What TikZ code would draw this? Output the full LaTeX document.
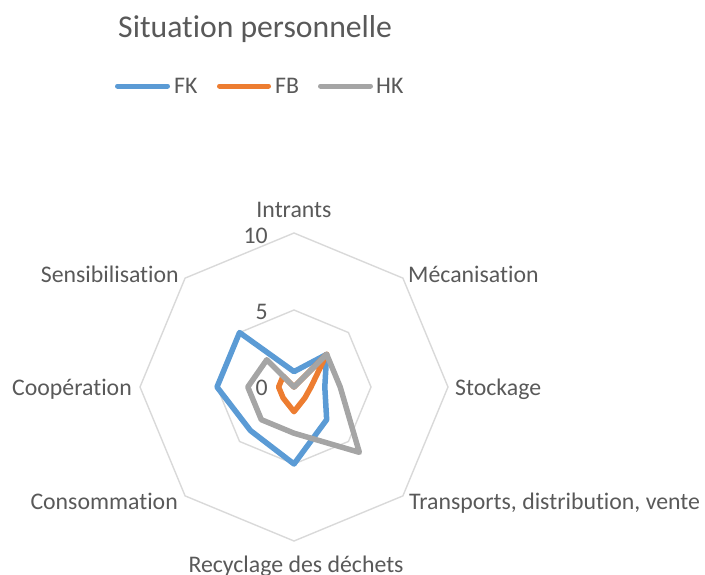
\documentclass[tikz,border=0pt]{standalone}
\usepackage{fontspec}
\setmainfont[Ligatures=NoCommon]{Carlito}
\definecolor{fkblue}{HTML}{5B9BD5}
\definecolor{fborange}{HTML}{ED7D31}
\definecolor{hkgray}{HTML}{A5A5A5}
\definecolor{gridgray}{HTML}{D9D9D9}
\definecolor{txtgray}{HTML}{595959}
\begin{document}
\begin{tikzpicture}[x=1pt,y=1pt,
  gridline/.style={draw=gridgray,line width=1.4pt,line join=miter},
  series/.style={line width=5.5pt,line join=round,line cap=round},
  keyline/.style={line width=5pt,line cap=round},
  lbl/.style={inner sep=0pt,text=txtgray,font=\fontsize{23.8}{28}\selectfont},
  ttl/.style={inner sep=0pt,text=txtgray,font=\fontsize{31.7}{36}\selectfont}]
\useasboundingbox (0,0) rectangle (705,-574);
\coordinate (c) at (294,-387);
\def\unit{15.4}

% grid rings at 5 and 10
\foreach \k in {0,...,7} {
  \coordinate (ga\k) at ([shift={(c)}] {90-45*\k}:{5*\unit});
  \coordinate (gb\k) at ([shift={(c)}] {90-45*\k}:{10*\unit});
}
\draw[gridline] (ga0)--(ga1)--(ga2)--(ga3)--(ga4)--(ga5)--(ga6)--(ga7)--cycle;
\draw[gridline] (gb0)--(gb1)--(gb2)--(gb3)--(gb4)--(gb5)--(gb6)--(gb7)--cycle;

% data points
\foreach \v [count=\k from 0] in {1,3,2,3,5,4,5,5}
  \coordinate (fk\k) at ([shift={(c)}] {90-45*\k}:{\v*\unit});
\foreach \v [count=\k from 0] in {0,3,1.1,1,1.6,1,1,1}
  \coordinate (fb\k) at ([shift={(c)}] {90-45*\k}:{\v*\unit});
\foreach \v [count=\k from 0] in {0,3,3,6,3,3,3,2.5}
  \coordinate (hk\k) at ([shift={(c)}] {90-45*\k}:{\v*\unit});

\draw[series,fkblue] (fk0)--(fk1)--(fk2)--(fk3)--(fk4)--(fk5)--(fk6)--(fk7)--cycle;
\draw[series,fborange] (fb0)--(fb1)--(fb2)--(fb3)--(fb4)--(fb5)--(fb6)--(fb7)--cycle;
\draw[series,hkgray] (hk0)--(hk1)--(hk2)--(hk3)--(hk4)--(hk5)--(hk6)--(hk7)--cycle;

% scale labels
\node[lbl,anchor=base east] (t10) at (268,-243) {10};
\node[lbl,anchor=base east] (t5) at (268,-319) {5};
\node[lbl,anchor=base east] (t0) at (268,-395) {0};

% axis labels
\node[lbl,anchor=base] (intr) at (294,-217) {Intrants};
\node[lbl,anchor=base west] (meca) at (408,-282) {Mécanisation};
\node[lbl,anchor=base west] (stock) at (455,-395) {Stockage};
\node[lbl,anchor=base west] (trans) at (409,-509) {Transports, distribution, vente};
\node[lbl,anchor=base] (recy) at (296,-572) {Recyclage des déchets};
\node[lbl,anchor=base east] (conso) at (178,-509) {Consommation};
\node[lbl,anchor=base east] (coop) at (132,-395) {Coopération};
\node[lbl,anchor=base east] (sens) at (179,-282) {Sensibilisation};

% title
\node[ttl,anchor=base west] (title) at (118,-37) {Situation personnelle};

% legend
\coordinate (k1a) at (117.5,-86); \coordinate (k1b) at (167.5,-86);
\coordinate (k2a) at (219.5,-86); \coordinate (k2b) at (268.5,-86);
\coordinate (k3a) at (320.5,-86); \coordinate (k3b) at (370.5,-86);
\draw[keyline,fkblue] (k1a)--(k1b);
\draw[keyline,fborange] (k2a)--(k2b);
\draw[keyline,hkgray] (k3a)--(k3b);
\node[lbl,anchor=base west] (kfk) at (174,-93) {FK};
\node[lbl,anchor=base west] (kfb) at (275,-93) {FB};
\node[lbl,anchor=base west] (khk) at (376,-93) {HK};
\end{tikzpicture}
\end{document}
